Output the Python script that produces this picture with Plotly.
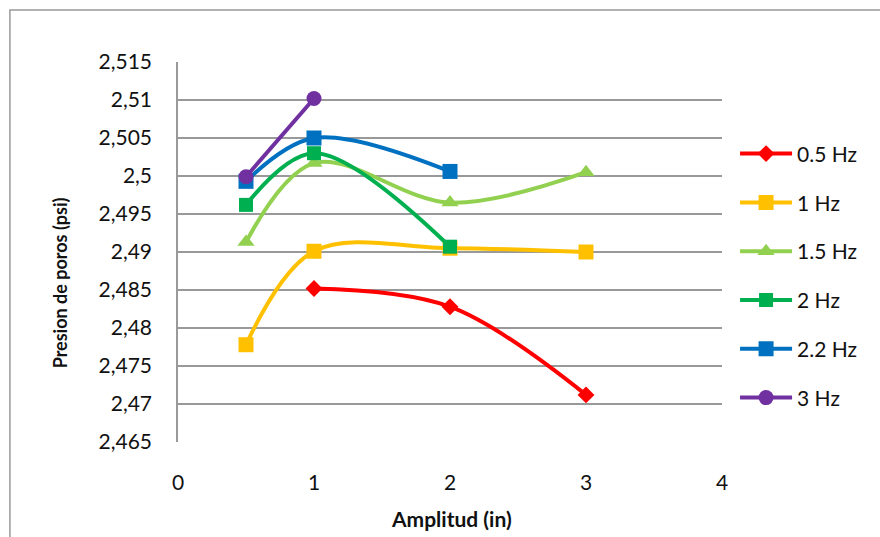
import plotly.graph_objects as go

# ---- data ----
series_names = ["0.5 Hz", "1 Hz", "1.5 Hz", "2 Hz", "2.2 Hz", "3 Hz"]
x_05 = [1, 2, 3]
y_05 = [2.4852, 2.4828, 2.4712]
x_1 = [0.5, 1, 2, 3]
y_1 = [2.4778, 2.4901, 2.4905, 2.4900]
x_15 = [0.5, 1, 2, 3]
y_15 = [2.4913, 2.5017, 2.4965, 2.5005]
x_2 = [0.5, 1, 2]
y_2 = [2.4962, 2.5030, 2.4907]
x_22 = [0.5, 1, 2]
y_22 = [2.4993, 2.5050, 2.5006]
x_3 = [0.5, 1]
y_3 = [2.4999, 2.5102]

y_tickvals = [2.465, 2.47, 2.475, 2.48, 2.485, 2.49, 2.495, 2.5, 2.505, 2.51, 2.515]
y_ticktext = ["2,465", "2,47", "2,475", "2,48", "2,485", "2,49", "2,495", "2,5", "2,505", "2,51", "2,515"]
x_tickvals = [0, 1, 2, 3, 4]

xs = [x_05, x_1, x_15, x_2, x_22, x_3]
ys = [y_05, y_1, y_15, y_2, y_22, y_3]
colors = ["#FF0000", "#FFC000", "#92D050", "#00B050", "#0070C0", "#7030A0"]
symbols = ["diamond", "square", "triangle-up", "square", "square", "circle"]
msizes = [13, 15, 15, 14, 15, 15]

FONT = "Lato"
TXT = "#111111"

fig = go.Figure()
for i in range(6):
    fig.add_trace(go.Scatter(
        x=xs[i], y=ys[i], name=series_names[i], mode="lines+markers",
        line=dict(color=colors[i], width=4, shape="spline", smoothing=1),
        marker=dict(color=colors[i], symbol=symbols[i], size=msizes[i]),
        legendgroup=str(i),
    ))

fig.update_layout(
    width=880, height=537,
    margin=dict(l=178, r=158, t=62, b=95),
    paper_bgcolor="white", plot_bgcolor="white",
    font=dict(family=FONT, size=21, color=TXT),
    showlegend=True,
    legend=dict(x=1.024, y=0.812, xanchor="left", yanchor="top",
                traceorder="grouped", tracegroupgap=18.5,
                font=dict(family=FONT, size=21, color=TXT),
                bgcolor="rgba(0,0,0,0)", itemwidth=52),
    xaxis=dict(range=[0, 4], tickvals=x_tickvals, showgrid=False, zeroline=False,
               showline=False, ticks="", ticklabelstandoff=26,
               tickfont=dict(family=FONT, size=21, color=TXT)),
    yaxis=dict(range=[2.465, 2.515], tickvals=y_tickvals, ticktext=y_ticktext,
               showgrid=True, gridcolor="#999999", gridwidth=1.5, zeroline=False,
               showline=True, linecolor="#999999", linewidth=1.5, ticks="",
               ticklabelstandoff=20,
               tickfont=dict(family=FONT, size=21, color=TXT)),
    annotations=[
        dict(text="<b>Amplitud (in)</b>", xref="paper", yref="paper", x=0.503, y=-0.2,
             xanchor="center", yanchor="middle",
             showarrow=False, font=dict(family=FONT, size=21, color=TXT)),
        dict(text="<b>Presion de poros (psi)</b>", xref="paper", yref="paper", x=-0.217, y=0.42,
             xanchor="center", yanchor="middle",
             textangle=-90, showarrow=False, font=dict(family=FONT, size=18, color=TXT)),
    ],
    shapes=[
        dict(type="rect", xref="paper", yref="paper", x0=-0.309, x1=1.32, y0=-0.3, y1=1.137,
             line=dict(color="#999999", width=1.5), layer="below"),
    ],
)

fig.write_html("out.html")
